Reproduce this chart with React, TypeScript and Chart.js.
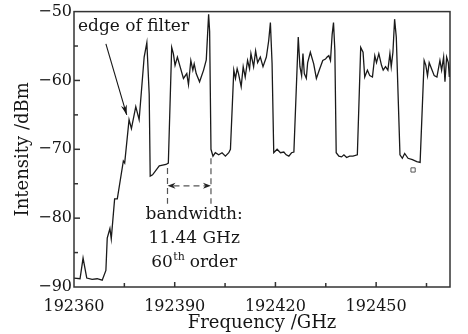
import React, { useEffect, useRef } from "react";
import { Chart, registerables } from "chart.js";

Chart.register(...registerables);

// ---- data ----
const frequencyGHz = [
  192360.0, 192361.8, 192362.7, 192363.8, 192365.4, 192366.9, 192368.4, 192369.5, 192369.9, 192370.7,
  192371.1, 192372.1, 192372.9, 192374.7, 192375.1, 192376.4, 192377.1, 192378.4, 192379.4, 192380.9,
  192381.7, 192382.4, 192382.7, 192383.4, 192385.4, 192387.4, 192388.1, 192389.1, 192389.6, 192390.1,
  192390.8, 192391.6, 192392.6, 192393.6, 192394.1, 192394.8, 192395.4, 192395.8, 192396.4, 192397.4,
  192398.6, 192399.4, 192400.1, 192400.4, 192400.8, 192401.4, 192402.1, 192403.1, 192404.1, 192405.1,
  192406.1, 192406.6, 192407.6, 192408.1, 192408.6, 192409.0, 192409.8, 192410.4, 192411.0, 192411.7,
  192412.3, 192412.7, 192413.5, 192414.1, 192414.7, 192415.5, 192416.3, 192417.3, 192418.0, 192418.5,
  192419.0, 192419.5, 192420.5, 192421.5, 192422.5, 192423.2, 192424.0, 192424.8, 192425.5, 192426.8,
  192427.3, 192427.8, 192428.2, 192428.6, 192429.2, 192429.6, 192430.4, 192431.4, 192432.2, 192433.2,
  192434.1, 192434.9, 192435.4, 192435.9, 192436.4, 192436.9, 192437.3, 192437.7, 192438.1, 192438.9,
  192439.7, 192440.4, 192441.2, 192442.1, 192443.1, 192444.4, 192445.4, 192446.1, 192446.6, 192447.4,
  192448.1, 192448.9, 192449.6, 192450.1, 192450.8, 192451.6, 192452.1, 192452.8, 192453.5, 192454.1,
  192454.5, 192455.0, 192455.5, 192456.0, 192457.1, 192457.8, 192458.5, 192459.5, 192460.8, 192462.1,
  192463.1, 192464.3, 192464.8, 192465.3, 192465.8, 192466.5, 192467.3, 192468.1, 192469.0, 192469.5,
  192470.1, 192470.5, 192471.0, 192471.5, 192471.8, 192472.2,
];

const intensityDbm = [
  -88.7, -88.8, -85.8, -88.7, -88.9, -88.8, -89.0, -87.6, -82.9, -81.5,
  -83.0, -77.2, -77.2, -71.7, -72.0, -65.7, -67.0, -63.8, -65.7, -56.6,
  -54.5, -62.0, -73.9, -73.7, -72.4, -72.2, -72.0, -55.2, -56.1, -57.8,
  -56.6, -58.0, -59.7, -59.0, -60.6, -57.1, -58.5, -57.6, -59.0, -60.2,
  -58.5, -57.0, -50.4, -52.9, -70.0, -71.0, -70.5, -70.8, -70.5, -71.0,
  -70.5, -70.0, -58.5, -59.7, -58.3, -59.0, -60.9, -58.0, -59.5, -57.1,
  -58.3, -56.1, -58.0, -55.7, -57.4, -56.6, -58.0, -56.6, -54.2, -51.6,
  -57.5, -70.5, -70.0, -70.5, -70.4, -70.8, -71.0, -70.5, -70.4, -53.7,
  -58.0, -59.3, -56.1, -59.0, -59.7, -57.4, -55.9, -57.6, -59.7, -58.3,
  -57.1, -56.9, -56.6, -56.4, -57.1, -53.3, -51.6, -55.6, -70.5, -71.0,
  -71.1, -70.8, -71.2, -71.0, -71.0, -70.8, -55.2, -55.9, -59.5, -58.5,
  -59.3, -59.5, -56.4, -57.4, -56.1, -57.8, -58.5, -58.0, -58.5, -56.1,
  -58.0, -55.9, -51.1, -53.7, -70.8, -71.3, -70.6, -71.3, -71.5, -71.8,
  -71.9, -57.1, -57.8, -59.3, -57.4, -58.3, -59.3, -59.5, -57.1, -58.5,
  -56.6, -60.2, -56.6, -57.4, -59.5, -57.4,
];

const markerFreq = [192461.0];
const markerDbm = [-73.0];

const xMin = 192360;
const xMax = 192472;
const xStep = 30;
const yMin = -90;
const yMax = -50;
const yStep = 10;

const xTitle = "Frequency /GHz";
const yTitle = "Intensity /dBm";

// annotations (data coordinates)
const edgeLabelText = "edge of filter";
const edgeLabelPos = [192361.2, -52.2];
const edgeArrowFrom = [192369.5, -54.7];
const edgeArrowTo = [192375.7, -65.0];
const bandEdgeFreqs = [192387.85, 192400.8];
const bandEdgeLineTop = [-72.7, -71.3];
const bandEdgeLineBottom = -77.9;
const bandArrowDbm = -75.3;
const bandLabelCenterFreq = 192395.8;
const bandLabelLines = ["bandwidth:", "11.44 GHz"];
const bandLabelDbm = [-79.5, -82.95, -86.4];
const orderNumber = "60";
const orderSup = "th";
const orderWord = " order";

const SERIF = "'DejaVu Serif', serif";
const INK = "#151515";

function fillArrowHead(ctx: CanvasRenderingContext2D, x0: number, y0: number, x1: number, y1: number, len: number, half: number) {
  const a = Math.atan2(y1 - y0, x1 - x0);
  ctx.beginPath();
  ctx.moveTo(x1, y1);
  ctx.lineTo(x1 - len * Math.cos(a) + half * Math.sin(a), y1 - len * Math.sin(a) - half * Math.cos(a));
  ctx.lineTo(x1 - len * 0.7 * Math.cos(a), y1 - len * 0.7 * Math.sin(a));
  ctx.lineTo(x1 - len * Math.cos(a) - half * Math.sin(a), y1 - len * Math.sin(a) + half * Math.cos(a));
  ctx.closePath();
  ctx.fill();
}

const framePlugin = {
  id: "framePlugin",
  afterDatasetsDraw(chart: any) {
    const { ctx, chartArea, scales } = chart;
    const xs = scales.x;
    const ys = scales.y;
    ctx.save();
    // frame
    ctx.strokeStyle = "#333";
    ctx.lineWidth = 1.5;
    ctx.strokeRect(chartArea.left, chartArea.top, chartArea.right - chartArea.left, chartArea.bottom - chartArea.top);
    // inward ticks
    ctx.lineWidth = 1.5;
    for (let v = xMin + xStep / 2; v < xMax; v += xStep / 2) {
      const major = Math.abs((v - xMin) % xStep) < 1e-6;
      const px = xs.getPixelForValue(v);
      ctx.beginPath();
      ctx.moveTo(px, chartArea.bottom);
      ctx.lineTo(px, chartArea.bottom - (major ? 5 : 4));
      ctx.stroke();
    }
    for (let v = yMin + yStep / 2; v < yMax; v += yStep / 2) {
      const major = Math.abs((v - yMin) % yStep) < 1e-6;
      const py = ys.getPixelForValue(v);
      ctx.beginPath();
      ctx.moveTo(chartArea.left, py);
      ctx.lineTo(chartArea.left + (major ? 6 : 4), py);
      ctx.stroke();
    }

    // edge of filter label + arrow
    ctx.fillStyle = INK;
    ctx.strokeStyle = INK;
    ctx.font = `17px ${SERIF}`;
    ctx.textBaseline = "middle";
    ctx.textAlign = "left";
    ctx.fillText(edgeLabelText, xs.getPixelForValue(edgeLabelPos[0]), ys.getPixelForValue(edgeLabelPos[1]));
    const ax0 = xs.getPixelForValue(edgeArrowFrom[0]);
    const ay0 = ys.getPixelForValue(edgeArrowFrom[1]);
    const ax1 = xs.getPixelForValue(edgeArrowTo[0]);
    const ay1 = ys.getPixelForValue(edgeArrowTo[1]);
    ctx.lineWidth = 1.1;
    ctx.beginPath();
    ctx.moveTo(ax0, ay0);
    ctx.lineTo(ax1, ay1);
    ctx.stroke();
    fillArrowHead(ctx, ax0, ay0, ax1, ay1, 10, 3);

    // bandwidth markers
    ctx.strokeStyle = "#555";
    ctx.fillStyle = "#222";
    ctx.lineWidth = 1.2;
    ctx.setLineDash([6, 4]);
    const bx = bandEdgeFreqs.map((f) => xs.getPixelForValue(f));
    bx.forEach((px, i) => {
      ctx.beginPath();
      ctx.moveTo(px, ys.getPixelForValue(bandEdgeLineTop[i]));
      ctx.lineTo(px, ys.getPixelForValue(bandEdgeLineBottom));
      ctx.stroke();
    });
    const by = ys.getPixelForValue(bandArrowDbm);
    ctx.beginPath();
    ctx.moveTo(bx[0] + 6, by);
    ctx.lineTo(bx[1] - 6, by);
    ctx.stroke();
    ctx.setLineDash([]);
    fillArrowHead(ctx, bx[1] - 10, by, bx[0], by, 8, 3);
    fillArrowHead(ctx, bx[0] + 10, by, bx[1], by, 8, 3);

    // bandwidth text
    ctx.fillStyle = INK;
    ctx.font = `17px ${SERIF}`;
    ctx.textAlign = "center";
    const cx = xs.getPixelForValue(bandLabelCenterFreq);
    bandLabelLines.forEach((t, i) => {
      ctx.fillText(t, cx, ys.getPixelForValue(bandLabelDbm[i]));
    });
    // 60th order
    const ly = ys.getPixelForValue(bandLabelDbm[2]);
    ctx.textAlign = "left";
    ctx.font = `17px ${SERIF}`;
    const w1 = ctx.measureText(orderNumber).width;
    const w3 = ctx.measureText(orderWord).width;
    ctx.font = `11px ${SERIF}`;
    const w2 = ctx.measureText(orderSup).width;
    let sx = cx - (w1 + w2 + w3) / 2;
    ctx.font = `17px ${SERIF}`;
    ctx.fillText(orderNumber, sx, ly);
    sx += w1;
    ctx.font = `11px ${SERIF}`;
    ctx.fillText(orderSup, sx + 0.5, ly - 5);
    sx += w2;
    ctx.font = `17px ${SERIF}`;
    ctx.fillText(orderWord, sx, ly);
    ctx.restore();
  },
};

export default function App() {
  const canvasRef = useRef<HTMLCanvasElement | null>(null);

  useEffect(() => {
    const canvas = canvasRef.current;
    if (!canvas) return;
    const lineData = frequencyGHz.map((f, i) => ({ x: f, y: intensityDbm[i] }));
    const markerData = markerFreq.map((f, i) => ({ x: f, y: markerDbm[i] }));
    const chart = new Chart(canvas, {
      type: "line",
      data: {
        datasets: [
          {
            data: lineData,
            borderColor: "#1a1a1a",
            borderWidth: 1.3,
            pointRadius: 0,
            tension: 0,
            fill: false,
          },
          {
            data: markerData,
            showLine: false,
            pointStyle: "rect",
            pointRadius: 3,
            pointBorderWidth: 1,
            pointBorderColor: "#555",
            pointBackgroundColor: "#fff",
          },
        ],
      },
      options: {
        animation: false,
        responsive: false,
        events: [],
        layout: { padding: { left: 0, right: 18, top: 9, bottom: 0 } },
        plugins: { legend: { display: false }, tooltip: { enabled: false } },
        scales: {
          x: {
            type: "linear",
            min: xMin,
            max: xMax,
            grid: { display: false, drawTicks: false },
            border: { display: false },
            ticks: {
              stepSize: xStep,
              includeBounds: false,
              padding: 10,
              color: INK,
              font: { family: SERIF, size: 16 },
              maxRotation: 0,
              autoSkip: false,
              callback: (v: any) => String(v),
            },
            title: {
              display: true,
              text: xTitle,
              color: INK,
              font: { family: SERIF, size: 18 },
              padding: { top: 0, bottom: 0 },
            },
            afterFit: (scale: any) => {
              scale.height = 47;
            },
          },
          y: {
            type: "linear",
            min: yMin,
            max: yMax,
            grid: { display: false, drawTicks: false },
            border: { display: false },
            ticks: {
              stepSize: yStep,
              padding: 2,
              color: INK,
              font: { family: SERIF, size: 16 },
              callback: (v: any) => String(v).replace("-", "\u2212"),
            },
            title: {
              display: true,
              text: yTitle,
              color: INK,
              font: { family: SERIF, size: 18 },
              padding: { top: 13, bottom: 0 },
            },
            afterFit: (scale: any) => {
              scale.width = 74;
            },
          },
        },
      },
      plugins: [framePlugin],
    } as any);
    return () => chart.destroy();
  }, []);

  return (
    <div style={{ position: "absolute", left: 0, top: 0, width: 468, height: 334, background: "#fff" }}>
      <canvas ref={canvasRef} width={468} height={334} style={{ display: "block", width: 468, height: 334 }} />
    </div>
  );
}
